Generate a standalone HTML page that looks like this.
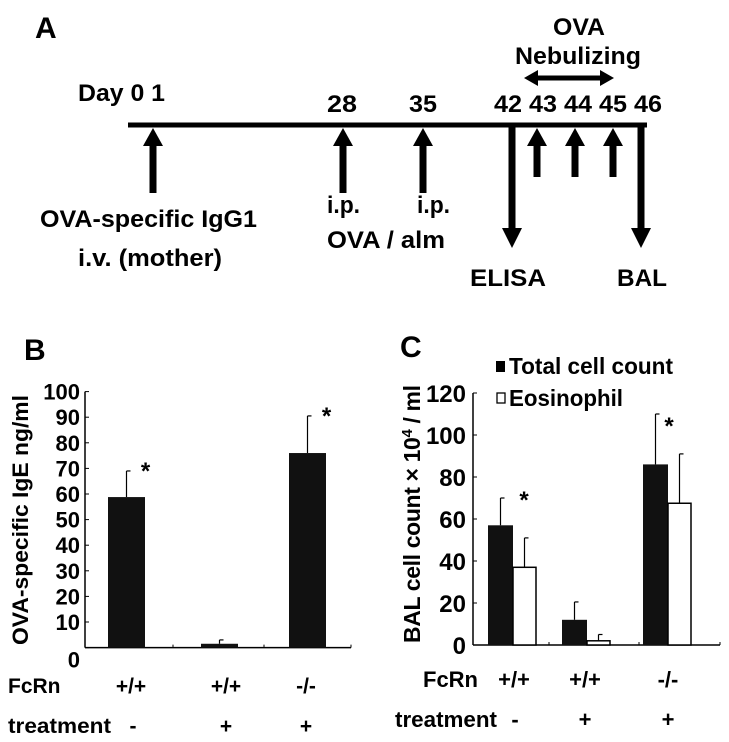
<!DOCTYPE html>
<html><head><meta charset="utf-8"><style>
body{margin:0;background:#fff;}
svg{display:block;font-family:"Liberation Sans",Arial,sans-serif;font-weight:bold;}
</style></head><body>
<svg id="fig" width="729" height="742" viewBox="0 0 729 742">
<g id="panelA">
<text x="35" y="38" font-size="30">A</text>
<line x1="128" y1="125" x2="647" y2="125" stroke="#000" stroke-width="5"/>
<text x="78" y="101" font-size="24" textLength="87" lengthAdjust="spacingAndGlyphs">Day 0 1</text>
<text x="327" y="112" font-size="24" textLength="30" lengthAdjust="spacingAndGlyphs">28</text>
<text x="409" y="112" font-size="24" textLength="28" lengthAdjust="spacingAndGlyphs">35</text>
<text x="494" y="112" font-size="24" textLength="168" lengthAdjust="spacingAndGlyphs">42 43 44 45 46</text>
<text x="553" y="35" font-size="24" textLength="52" lengthAdjust="spacingAndGlyphs">OVA</text>
<text x="515" y="64" font-size="24" textLength="126" lengthAdjust="spacingAndGlyphs">Nebulizing</text>
<g>
<line x1="535" y1="78" x2="603" y2="78" stroke="#000" stroke-width="5"/>
<polygon points="524,78 538,70 538,86" fill="#000"/>
<polygon points="614,78 600,70 600,86" fill="#000"/>
</g>
<g id="upArrows"></g>
<text x="40" y="227" font-size="24" textLength="217" lengthAdjust="spacingAndGlyphs">OVA-specific IgG1</text>
<text x="78" y="266" font-size="24" textLength="144" lengthAdjust="spacingAndGlyphs">i.v. (mother)</text>
<text x="327" y="213" font-size="24" textLength="33" lengthAdjust="spacingAndGlyphs">i.p.</text>
<text x="417" y="213" font-size="24" textLength="33" lengthAdjust="spacingAndGlyphs">i.p.</text>
<text x="327" y="248" font-size="24" textLength="118" lengthAdjust="spacingAndGlyphs">OVA / alm</text>
<text x="470" y="286" font-size="24" textLength="76" lengthAdjust="spacingAndGlyphs">ELISA</text>
<text x="617" y="286" font-size="24" textLength="50" lengthAdjust="spacingAndGlyphs">BAL</text>
</g>
<g id="panelB"></g>
<g id="panelC"></g>
</svg>
<script>
// Panel A arrows
var upArrowDays = ["1","28","35","43","44","45"];
var upArrowX = [153,343,423,537,575,613];
var downArrowDays = ["42","46"];
var NS="http://www.w3.org/2000/svg";
function mk(tag,attrs,parent){var e=document.createElementNS(NS,tag);for(var k in attrs)e.setAttribute(k,attrs[k]);parent.appendChild(e);return e;}
var ua=document.getElementById('upArrows');
upArrowX.forEach(function(x,i){
  var bottom = i<3?193:177;
  var g=mk('g',{},ua);
  
  
  mk('polygon',{points:(x)+',128 '+(x-10)+',146 '+(x+10)+',146',fill:'#000'},g);
  mk('rect',{x:x-3.5,y:144,width:7,height:bottom-144,fill:'#000'},g);
});
[512,641].forEach(function(x,i){
  var g=mk('g',{},ua);
  
  
  mk('rect',{x:x-3.5,y:125,width:7,height:105,fill:'#000'},g);
  mk('polygon',{points:x+',248 '+(x-10)+',228 '+(x+10)+',228',fill:'#000'},g);
});

// Panel B data
var bCategories = ["+/+ -","+/+ +","-/- +"];
var bValues = [58.8, 1.5, 76];
var bErrors = [69, 3, 90.5];
var bTicks = [0,10,20,30,40,50,60,70,80,90,100];
var bStars = [true,false,true];

// Panel C data
var cCategories = ["+/+ -","+/+ +","-/- +"];
var cTotal = [57, 12, 86];
var cTotalErr = [70, 20.5, 110];
var cEos = [37, 2, 67.5];
var cEosErr = [51, 5, 91];
var cTicks = [0,20,40,60,80,100,120];

var txt=function(p,x,y,s,size,anchor,name,len){var t=mk('text',{x:x,y:y,'font-size':size,'text-anchor':anchor||'start'},p);t.textContent=s;if(len){t.setAttribute('textLength',len);t.setAttribute('lengthAdjust','spacingAndGlyphs');}return t;};

// ---- Panel B ----
(function(){
  var p=document.getElementById('panelB');
  var x0=85,x1=351,y0=647.6,yTop=391.6,max=100;
  var y=function(v){return y0-(v/max)*(y0-yTop);};
  var bx=[108,201,289], bw=37;
  txt(p,24,360,'B',30,'start','panel-b-label');
  var ax=mk('line',{x1:x0,y1:yTop,x2:x0,y2:y0,stroke:'#000','stroke-width':1.5},p);
  
  
  var xa=mk('line',{x1:x0,y1:y0,x2:x1,y2:y0,stroke:'#000','stroke-width':1.5},p);
  
  
  [173,264,351].forEach(function(tx){mk('line',{x1:tx,y1:y0,x2:tx,y2:y0-3,stroke:'#000','stroke-width':1},p);});
  bTicks.forEach(function(v){
    var ty=y(v);
    mk('line',{x1:x0,y1:ty,x2:x0+4,y2:ty,stroke:'#000','stroke-width':1},p);
    txt(p,80,(v===0?ty+20:ty+8),String(v),22,'end','y-tick-label');
  });
  bValues.forEach(function(v,i){
    var ex=bx[i]+bw/2;
    var el=mk('line',{x1:ex,y1:y(bErrors[i]),x2:ex,y2:y(v),stroke:'#000','stroke-width':1.2},p);
    
    
    mk('line',{x1:ex,y1:y(bErrors[i]),x2:ex+4,y2:y(bErrors[i]),stroke:'#000','stroke-width':1.2},p);
    var r=mk('rect',{x:bx[i],y:y(v),width:bw,height:y0-y(v),fill:'#111'},p);
    
    
    if(bStars[i]) txt(p,ex+19,y(bErrors[i])+8,'*',24,'middle','significance-star');
  });
  var yl=txt(p,0,0,'OVA-specific IgE ng/ml',22,'middle','y-axis-title',250);
  yl.setAttribute('transform','translate(28,520) rotate(-90)');
  txt(p,8,693,'FcRn',21,'start','fcrn-row-label');
  txt(p,8,733,'treatment',21,'start','treatment-row-label',103);
  var fc=['+/+','+/+','-/-'], tr=['-','+','+'];
  var cx=[131,226,306];
  fc.forEach(function(s,i){txt(p,cx[i],693,s,21,'middle','fcrn-genotype');});
  tr.forEach(function(s,i){txt(p,i===0?133:cx[i],733,s,21,'middle','treatment-value');});
})();

// ---- Panel C ----
(function(){
  var p=document.getElementById('panelC');
  var x0=473,x1=720,y0=645,yTop=393,max=120;
  var y=function(v){return y0-(v/max)*(y0-yTop);};
  var tx=[488,562,643], bw=25, ew=23;
  txt(p,400,357,'C',30,'start','panel-c-label');
  var ax=mk('line',{x1:x0,y1:yTop,x2:x0,y2:y0,stroke:'#000','stroke-width':1.5},p);
  
  
  var xa=mk('line',{x1:x0,y1:y0,x2:x1,y2:y0,stroke:'#000','stroke-width':1.5},p);
  
  
  [549,639,720].forEach(function(t){mk('line',{x1:t,y1:y0,x2:t,y2:y0-3,stroke:'#000','stroke-width':1},p);});
  cTicks.forEach(function(v){
    var ty=y(v);
    mk('line',{x1:x0,y1:ty,x2:x0+4,y2:ty,stroke:'#000','stroke-width':1},p);
    txt(p,466,ty+9,String(v),24,'end','y-tick-label');
  });
  function err(x,v,e){
    var l=mk('line',{x1:x,y1:y(e),x2:x,y2:y(v),stroke:'#000','stroke-width':1.2},p);
    
    
    mk('line',{x1:x,y1:y(e),x2:x+4,y2:y(e),stroke:'#000','stroke-width':1.2},p);
  }
  cTotal.forEach(function(v,i){
    err(tx[i]+bw/2,v,cTotalErr[i]);
    var r=mk('rect',{x:tx[i],y:y(v),width:bw,height:y0-y(v),fill:'#111'},p);
    
    
  });
  cEos.forEach(function(v,i){
    var ex=tx[i]+bw;
    err(ex+ew/2,v,cEosErr[i]);
    var r=mk('rect',{x:ex,y:y(v),width:ew,height:y0-y(v),fill:'#fff',stroke:'#000','stroke-width':1.5},p);
    
    
  });
  txt(p,524,y(cTotalErr[0])+10,'*',24,'middle','significance-star');
  txt(p,669,y(cTotalErr[2])+20,'*',24,'middle','significance-star');
  // legend
  var lg=mk('g',{},p);
  
  
  mk('rect',{x:496,y:361,width:9,height:11,fill:'#000'},lg);
  txt(lg,509,374,'Total cell count',23,'start','legend-total-cell-count',164);
  mk('rect',{x:497,y:393,width:8,height:10,fill:'#fff',stroke:'#000','stroke-width':1.3},lg);
  txt(lg,509,406,'Eosinophil',23,'start','legend-eosinophil',114);
  var yl=txt(p,0,0,'BAL cell count \u00d7 10',23,'middle','y-axis-title');
  var ts=mk('tspan',{dy:-8,'font-size':15},yl); ts.textContent='4';
  var ts2=mk('tspan',{dy:8},yl); ts2.textContent=' / ml';
  yl.setAttribute('textLength','258');
  yl.setAttribute('transform','translate(420,514) rotate(-90)');
  txt(p,423,687,'FcRn',22,'start','fcrn-row-label');
  txt(p,395,727,'treatment',22,'start','treatment-row-label',102);
  var fc=['+/+','+/+','-/-'], tr=['-','+','+'];
  var cx=[514,585,668];
  fc.forEach(function(s,i){txt(p,cx[i],687,s,22,'middle','fcrn-genotype');});
  tr.forEach(function(s,i){txt(p,i===0?515:cx[i],727,s,22,'middle','treatment-value');});
})();
</script>
</body></html>
